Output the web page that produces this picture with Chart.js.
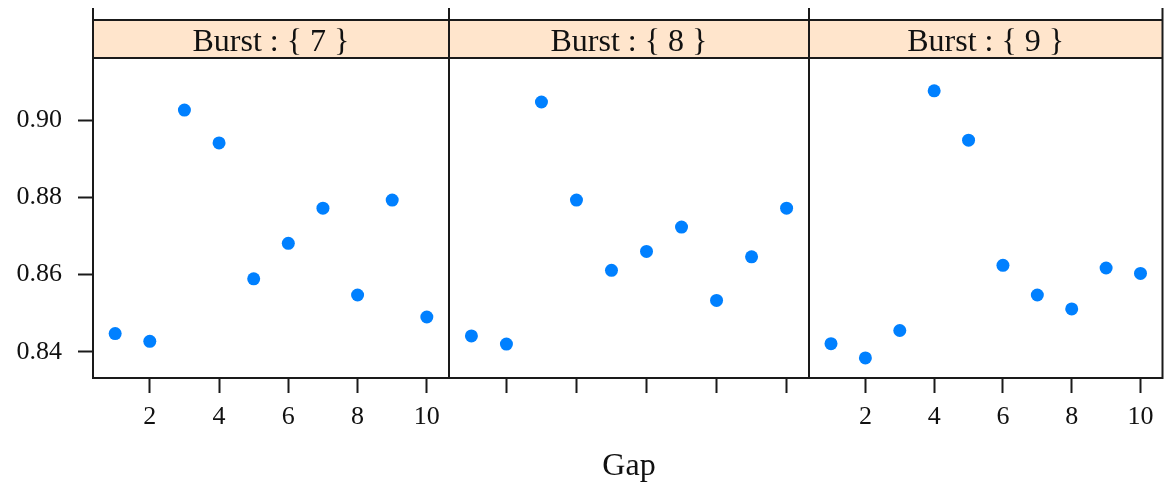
<!DOCTYPE html>
<html>
<head>
<meta charset="utf-8">
<script src="https://cdn.jsdelivr.net/npm/chart.js@4.4.0/dist/chart.umd.min.js"></script>
<style>
    html, body { margin: 0; padding: 0; background: #fff; }
    #wrap { position: relative; width: 1169px; height: 488px; overflow: hidden; }
    .panel { position: absolute; top: 0; height: 488px; }
</style>
</head>
<body>
<div id="wrap">
    <div class="panel" style="left:0;width:460px"><canvas id="burst7"></canvas></div>
    <div class="panel" style="left:440px;width:380px"><canvas id="burst8"></canvas></div>
    <div class="panel" style="left:800px;width:369px"><canvas id="burst9"></canvas></div>
</div>
<script>
// Gap on x, one panel per Burst value
var gapValues = [1, 2, 3, 4, 5, 6, 7, 8, 9, 10];
var burst7 = [0.8447, 0.8427, 0.9026, 0.8941, 0.8589, 0.8681, 0.8772, 0.8547, 0.8793, 0.8490];
var burst8 = [0.8441, 0.8420, 0.9047, 0.8793, 0.8611, 0.8660, 0.8723, 0.8533, 0.8646, 0.8772];
var burst9 = [0.8421, 0.8384, 0.8455, 0.9076, 0.8948, 0.8624, 0.8547, 0.8511, 0.8617, 0.8603];
var panelLabels = ["Burst : { 7 }", "Burst : { 8 }", "Burst : { 9 }"];
var xTicks = [2, 4, 6, 8, 10];
var yTicks = [0.84, 0.86, 0.88, 0.90];
var xTitle = "Gap";

Chart.defaults.font.family = "'Liberation Serif', 'Times New Roman', serif";
Chart.defaults.color = "#111";

var panelFrame = {
    id: "panelFrame",
    afterDraw: function (chart, args, opts) {
        var ctx = chart.ctx;
        var a = chart.chartArea;
        ctx.save();
        // strip
        ctx.fillStyle = "#FFE5CC";
        ctx.fillRect(a.left, 20, a.right - a.left, a.top - 20);
        ctx.strokeStyle = "#1a1a1a";
        ctx.lineWidth = 2;
        ctx.beginPath();
        ctx.moveTo(a.left, 8);
        ctx.lineTo(a.left, a.bottom);
        ctx.lineTo(a.right, a.bottom);
        ctx.lineTo(a.right, 8);
        ctx.moveTo(a.left, 20);
        ctx.lineTo(a.right, 20);
        ctx.moveTo(a.left, a.top);
        ctx.lineTo(a.right, a.top);
        ctx.stroke();
        ctx.fillStyle = "#111";
        ctx.font = "32px 'Liberation Serif', serif";
        ctx.textAlign = "center";
        ctx.textBaseline = "alphabetic";
        ctx.fillText(opts.label, (a.left + a.right) / 2, 51);
        ctx.restore();
    }
};

function makePoints(values) {
    return gapValues.map(function (g, i) {
        return { x: g, y: values[i] };
    });
}

function scatterPanel(context, values, label, opts) {

    let chart = new Chart(context, {
        type: "scatter",
        data: {
            datasets: [
                {
                    data: makePoints(values),
                    backgroundColor: "#0080FF",
                    borderWidth: 0,
                    pointRadius: 6.5,
                    pointHoverRadius: 6.5
                }
            ]
        },
        options: {
            responsive: true,
            maintainAspectRatio: false,
            animation: false,
            events: [],
            layout: {
                padding: { top: 58, left: opts.padLeft, right: opts.padRight, bottom: 0 }
            },
            plugins: {
                legend: { display: false },
                tooltip: { enabled: false },
                panelFrame: { label: label }
            },
            scales: {
                x: {
                    type: "linear",
                    min: 0.36,
                    max: 10.64,
                    afterBuildTicks: function (scale) {
                        scale.ticks = xTicks.map(function (v) { return { value: v }; });
                    },
                    afterFit: function (scale) {
                        scale.height = 110;
                        // labels never reach the panel edges
                        scale.paddingLeft = 0;
                        scale.paddingRight = 0;
                    },
                    grid: {
                        drawOnChartArea: false,
                        drawTicks: true,
                        tickLength: 15,
                        tickWidth: 2,
                        tickColor: "#1a1a1a"
                    },
                    border: { display: false },
                    ticks: {
                        font: { size: 26 },
                        padding: 9,
                        maxRotation: 0,
                        callback: function (v) { return opts.xLabels ? String(v) : ""; }
                    },
                    title: {
                        display: opts.showTitle,
                        text: xTitle,
                        font: { size: 32 },
                        padding: { top: 4, bottom: 2 }
                    }
                },
                y: {
                    display: opts.showY,
                    min: 0.8332,
                    max: 0.9161,
                    afterBuildTicks: function (scale) {
                        scale.ticks = yTicks.map(function (v) { return { value: v }; });
                    },
                    afterFit: function (scale) {
                        scale.width = opts.showY ? 93 : 0;
                    },
                    grid: {
                        drawOnChartArea: false,
                        drawTicks: true,
                        tickLength: 15,
                        tickWidth: 2,
                        tickColor: "#1a1a1a"
                    },
                    border: { display: false },
                    ticks: {
                        font: { size: 26 },
                        padding: 16,
                        callback: function (v) { return v.toFixed(2); }
                    }
                }
            }
        },
        plugins: [panelFrame]
    });
    return chart;
}

scatterPanel(document.getElementById("burst7").getContext("2d"), burst7, panelLabels[0],
    { padLeft: 0, padRight: 11, showY: true, xLabels: true, showTitle: false });
scatterPanel(document.getElementById("burst8").getContext("2d"), burst8, panelLabels[1],
    { padLeft: 9, padRight: 11, showY: false, xLabels: false, showTitle: true });
scatterPanel(document.getElementById("burst9").getContext("2d"), burst9, panelLabels[2],
    { padLeft: 9, padRight: 2, showY: false, xLabels: true, showTitle: false });
</script>
</body>
</html>
